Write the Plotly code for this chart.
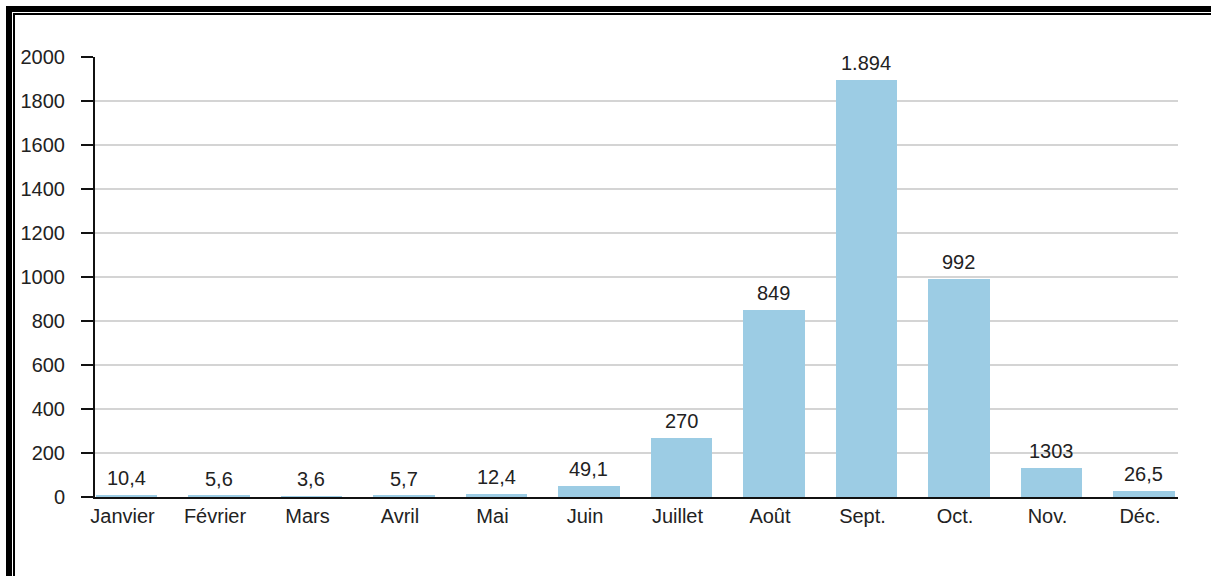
import plotly.graph_objects as go

months = ["Janvier", "Février", "Mars", "Avril", "Mai", "Juin", "Juillet",
          "Août", "Sept.", "Oct.", "Nov.", "Déc."]
values = [10.4, 5.6, 3.6, 5.7, 12.4, 49.1, 270, 849, 1894, 992, 130.3, 26.5]
value_labels = ["10,4", "5,6", "3,6", "5,7", "12,4", "49,1", "270", "849",
                "1.894", "992", "1303", "26,5"]
y_ticks = [0, 200, 400, 600, 800, 1000, 1200, 1400, 1600, 1800, 2000]

FONT = "Liberation Sans, Arial, Helvetica, sans-serif"
TXT = "#222222"
W, H = 1211, 576
L, R, T, B = 95, 33, 57, 79
PW, PH = W - L - R, H - T - B


def px(x):
    return (x - L) / PW


def py(y):
    return (H - B - y) / PH


fig = go.Figure()
fig.add_trace(go.Bar(
    x=months, y=values, width=0.665,
    marker=dict(color="#9ccce4", line=dict(width=0)),
    hoverinfo="x+y",
))

for m, v, t in zip(months, values, value_labels):
    fig.add_annotation(x=m, y=v, text=t, showarrow=False, yanchor="middle",
                       yshift=17, font=dict(family=FONT, size=20, color=TXT))

# decorative frame (thick + thin black lines, top and left)
frame = [
    (6, 12, 6, 580), (6, 1215, 6, 12),
    (13, 15, 13, 580), (13, 1215, 13, 15),
]
for x0, x1, y0, y1 in frame:
    fig.add_shape(type="rect", xref="paper", yref="paper",
                  x0=px(x0), x1=px(x1), y0=py(y1), y1=py(y0),
                  fillcolor="black", line=dict(width=0), layer="above")

fig.update_layout(
    width=W, height=H,
    margin=dict(l=L, r=R, t=T, b=B, autoexpand=False),
    paper_bgcolor="white", plot_bgcolor="white",
    showlegend=False,
    bargap=0,
    font=dict(family=FONT, size=20, color=TXT),
    xaxis=dict(
        type="category", range=[-0.3405, 11.368],
        showline=True, linecolor="#111111", linewidth=2,
        ticks="", showgrid=False, zeroline=False,
        tickfont=dict(family=FONT, size=20, color=TXT),
        ticklabelshift=-4, ticklabelstandoff=0,
        fixedrange=True,
    ),
    yaxis=dict(
        range=[0, 2000], tickvals=y_ticks,
        ticktext=[str(v) for v in y_ticks],
        showline=True, linecolor="#111111", linewidth=2,
        ticks="outside", ticklen=12, tickwidth=2, tickcolor="#111111",
        showgrid=True, gridcolor="#d4d4d4", gridwidth=2,
        zeroline=False,
        tickfont=dict(family=FONT, size=20, color=TXT),
        ticklabelstandoff=12,
        fixedrange=True,
    ),
)

fig.write_html("out.html")
